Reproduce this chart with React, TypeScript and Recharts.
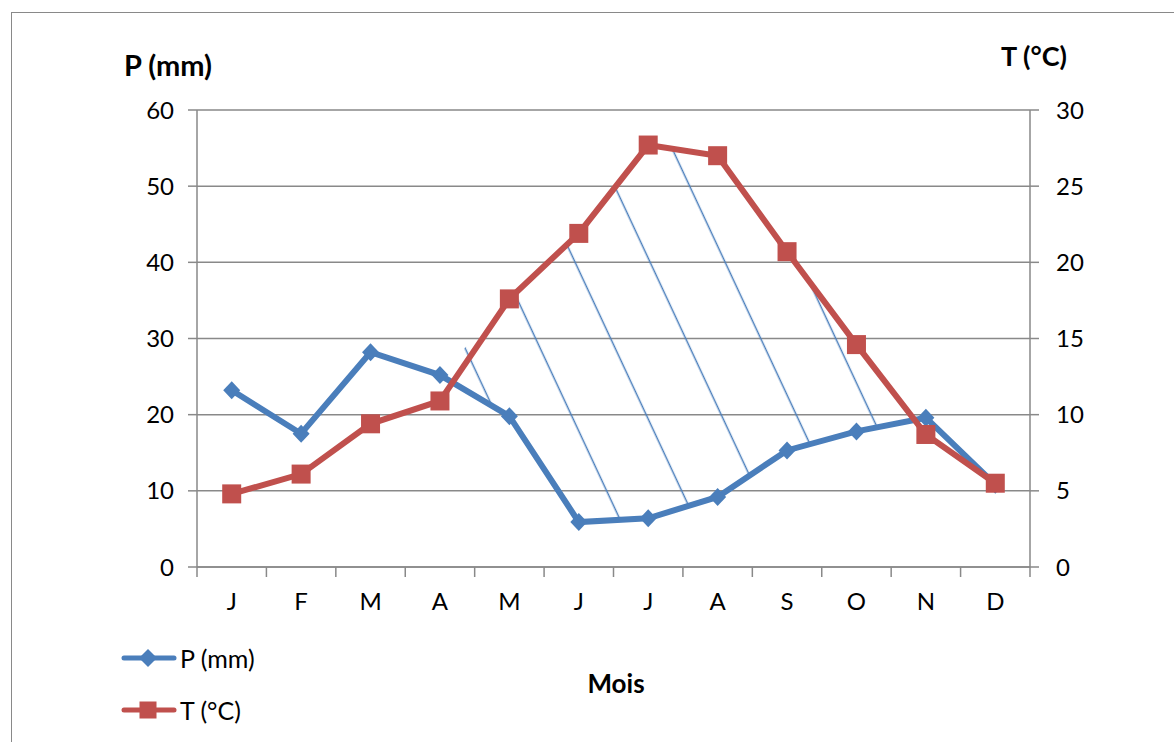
import { ComposedChart, Line, Area, XAxis, YAxis, CartesianGrid } from "recharts";

const months = ["J", "F", "M", "A", "M", "J", "J", "A", "S", "O", "N", "D"];
const precipitation = [23.2, 17.5, 28.2, 25.2, 19.8, 5.9, 6.4, 9.2, 15.3, 17.8, 19.6, 10.8];
const temperature = [4.8, 6.1, 9.4, 10.9, 17.6, 21.9, 27.7, 27.0, 20.7, 14.6, 8.7, 5.5];
const pTicks = [0, 10, 20, 30, 40, 50, 60];
const tTicks = [0, 5, 10, 15, 20, 25, 30];

const BLUE = "#4A7EBB";
const RED = "#C0504D";
const AXIS = "#898989";
const FONT = "Lato, 'Open Sans', sans-serif";

const W = 1174;
const H = 742;
const margin = { top: 110, right: 84, bottom: 145, left: 137 };
const Y_WIDTH = 60;
const X_HEIGHT = 30;
const BAND = (W - margin.left - margin.right - 2 * Y_WIDTH) / months.length;

// dry season: where 2T > P the gap between the curves gets hatched
const data = months.map((month, i) => {
  const p = precipitation[i];
  const t = temperature[i];
  return { month, p, t, hatch: 2 * t > p ? [p, 2 * t] : [p, p] };
});

const Diamond = ({ cx, cy }: any) => {
  if (cx == null || cy == null) return null;
  return (
    <polygon
      points={`${cx},${cy - 9} ${cx + 8.5},${cy} ${cx},${cy + 9} ${cx - 8.5},${cy}`}
      fill={BLUE}
    />
  );
};

const Square = ({ cx, cy }: any) => {
  if (cx == null || cy == null) return null;
  return <rect x={cx - 9.5} y={cy - 9.5} width={19} height={19} fill={RED} />;
};

const MonthTick = ({ x, y, payload, index }: any) => {
  const half = BAND / 2;
  return (
    <g>
      <line x1={x - half} y1={y} x2={x - half} y2={y + 10} stroke={AXIS} strokeWidth={1.5} />
      {index === months.length - 1 && (
        <line x1={x + half} y1={y} x2={x + half} y2={y + 10} stroke={AXIS} strokeWidth={1.5} />
      )}
      <text x={x} y={y + 43} textAnchor="middle" fill="#000" fontSize={24} fontFamily={FONT}>
        {payload.value}
      </text>
    </g>
  );
};

const label = (text: string, x: number, y: number, size: number, bold = true) => (
  <div
    style={{
      position: "absolute",
      left: x,
      top: y,
      transform: "translate(-50%, -50%)",
      fontSize: size,
      fontWeight: bold ? 700 : 400,
      lineHeight: 1,
      whiteSpace: "nowrap",
      color: "#000",
    }}
  >
    {text}
  </div>
);

export default function App() {
  return (
    <div
      style={{
        position: "absolute",
        left: 0,
        top: 0,
        width: W,
        height: H,
        overflow: "hidden",
        background: "#fff",
        fontFamily: FONT,
      }}
    >
      <div
        style={{
          position: "absolute",
          left: 11,
          top: 12,
          width: W + 50,
          height: H + 50,
          borderLeft: `1.5px solid ${AXIS}`,
          borderTop: `1.5px solid ${AXIS}`,
        }}
      />
      <div style={{ position: "absolute", left: 0, top: 0 }}>
        <ComposedChart width={W} height={H} data={data} margin={margin}>
          <defs>
            <pattern
              id="hatch"
              patternUnits="userSpaceOnUse"
              width={68}
              height={68}
              patternTransform="rotate(-25)"
            >
              <line x1={2.4} y1={0} x2={2.4} y2={68} stroke={BLUE} strokeWidth={1.5} />
            </pattern>
          </defs>
          <CartesianGrid vertical={false} stroke={AXIS} strokeWidth={1.5} />
          <XAxis
            dataKey="month"
            height={X_HEIGHT}
            interval={0}
            padding={{ left: BAND / 2, right: BAND / 2 }}
            tickSize={0}
            tickMargin={0}
            axisLine={{ stroke: AXIS, strokeWidth: 1.5 }}
            tick={<MonthTick />}
          />
          <YAxis
            domain={[0, 60]}
            ticks={pTicks}
            width={Y_WIDTH}
            tickSize={9}
            tickMargin={14}
            axisLine={{ stroke: AXIS, strokeWidth: 1.5 }}
            tickLine={{ stroke: AXIS, strokeWidth: 1.5 }}
            tick={{ fill: "#000", fontSize: 24, fontFamily: FONT }}
          />
          <YAxis
            yAxisId="t"
            orientation="right"
            domain={[0, 30]}
            ticks={tTicks}
            width={Y_WIDTH}
            tickSize={9}
            tickMargin={17}
            axisLine={{ stroke: AXIS, strokeWidth: 1.5 }}
            tickLine={{ stroke: AXIS, strokeWidth: 1.5 }}
            tick={{ fill: "#000", fontSize: 24, fontFamily: FONT, textAnchor: "start" }}
          />
          <Area
            dataKey="hatch"
            type="linear"
            stroke="none"
            fill="url(#hatch)"
            fillOpacity={1}
            dot={false}
            activeDot={false}
            isAnimationActive={false}
          />
          <Line
            dataKey="p"
            type="linear"
            stroke={BLUE}
            strokeWidth={6}
            dot={<Diamond />}
            activeDot={false}
            isAnimationActive={false}
          />
          <Line
            dataKey="t"
            yAxisId="t"
            type="linear"
            stroke={RED}
            strokeWidth={6}
            dot={<Square />}
            activeDot={false}
            isAnimationActive={false}
          />
        </ComposedChart>
      </div>

      {label("P (mm)", 168, 64, 29)}
      {label("T (°C)", 1034, 55, 27)}
      {label("Mois", 616, 683, 26)}

      <div style={{ position: "absolute", left: 120, top: 643, display: "flex", alignItems: "center" }}>
        <svg width={58} height={26}>
          <line x1={4} y1={13} x2={54} y2={13} stroke={BLUE} strokeWidth={5} strokeLinecap="round" />
          <polygon points="28,4 37,13 28,22 19,13" fill={BLUE} />
        </svg>
        <span style={{ fontSize: 25, marginLeft: 2 }}>P (mm)</span>
      </div>
      <div style={{ position: "absolute", left: 120, top: 695, display: "flex", alignItems: "center" }}>
        <svg width={58} height={26}>
          <line x1={4} y1={13} x2={54} y2={13} stroke={RED} strokeWidth={5} strokeLinecap="round" />
          <rect x={19.5} y={4.5} width={17} height={17} fill={RED} />
        </svg>
        <span style={{ fontSize: 25, marginLeft: 2 }}>T (°C)</span>
      </div>
    </div>
  );
}
